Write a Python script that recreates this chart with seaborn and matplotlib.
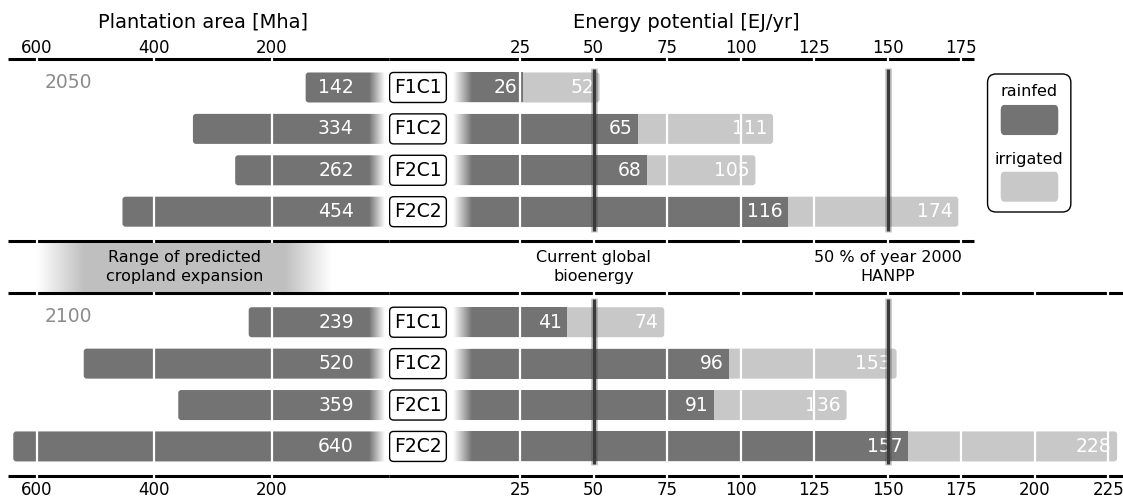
import numpy as np
import pandas as pd
import matplotlib.pyplot as plt
from matplotlib.patches import FancyBboxPatch
import seaborn as sns

# data
scenarios = ['F1C1', 'F1C2', 'F2C1', 'F2C2']
area_2050 = [142, 334, 262, 454]
area_2100 = [239, 520, 359, 640]
rainfed_2050 = [26, 65, 68, 116]
total_2050 = [52, 111, 105, 174]
rainfed_2100 = [41, 96, 91, 157]
total_2100 = [74, 153, 136, 228]
bioenergy_now = 50
hanpp_half = 150
cropland_range = (99, 600)
area_ticks = [600, 400, 200]
energy_ticks_2050 = [25, 50, 75, 100, 125, 150, 175]
energy_ticks_2100 = [25, 50, 75, 100, 125, 150, 175, 200, 225]

DARK = '#737373'
LIGHT = '#c8c8c8'

# row layout (in row units, 2100 block shifted down)
rows_2050 = np.arange(4)
rows_2100 = np.arange(4) + 5.67
df = pd.DataFrame({
    'scenario': scenarios * 2,
    'year': [2050] * 4 + [2100] * 4,
    'row': list(rows_2050) + list(rows_2100),
    'area': area_2050 + area_2100,
    'rainfed': rainfed_2050 + rainfed_2100,
    'total': total_2050 + total_2100,
})

sns.set_theme(style='white')
plt.rcParams['font.family'] = ['DejaVu Sans']
plt.rcParams['text.color'] = 'black'
plt.rcParams['xtick.color'] = 'black'

W, H = 1123, 500
fig = plt.figure(figsize=(W / 100, H / 100), dpi=100)
y_top, y_bot = 59, 476
ax_l = fig.add_axes([8 / W, 1 - y_bot / H, (389 - 8) / W, (y_bot - y_top) / H])
ax_r = fig.add_axes([389 / W, 1 - y_bot / H, (W - 389) / W, (y_bot - y_top) / H])

L_XLIM = (649, 0)
R_XLIM = (-19.6, 230.0)
YLIM = (9.384, -0.688)
line_mid1, line_mid2 = 3.708, 4.971
bar_w = 0.725


def round_bars(ax, patches, rx, ry):
    for p in patches:
        fb = FancyBboxPatch((p.get_x(), p.get_y()), p.get_width(), p.get_height(),
                            boxstyle=f'round,pad=0,rounding_size={rx}',
                            mutation_aspect=ry / rx, fc=p.get_facecolor(),
                            ec='none', zorder=2)
        p.remove()
        ax.add_patch(fb)


# left: plantation area
sns.barplot(data=df, x='area', y='row', orient='y', native_scale=True, width=bar_w,
            color=DARK, saturation=1, linewidth=0, errorbar=None, ax=ax_l)
round_bars(ax_l, list(ax_l.patches), 3 / 0.5867, 3 / 41.4)

# right: energy potential (total first, rainfed on top)
sns.barplot(data=df, x='total', y='row', orient='y', native_scale=True, width=bar_w,
            color=LIGHT, saturation=1, linewidth=0, errorbar=None, ax=ax_r)
round_bars(ax_r, list(ax_r.patches), 3 / 2.94, 3 / 41.4)
n0 = len(ax_r.patches)
sns.barplot(data=df, x='rainfed', y='row', orient='y', native_scale=True, width=bar_w,
            color=DARK, saturation=1, linewidth=0, errorbar=None, ax=ax_r)
for p in ax_r.patches[n0:]:
    p.set_zorder(2.1)

# fade the inner ends of the bars
for rows in (rows_2050, rows_2100):
    y0, y1 = rows.min() - 0.45, rows.max() + 0.45
    g = np.ones((1, 256, 4))
    g[..., 3] = np.clip(np.linspace(0, 1.25, 256), 0, 1)
    ax_l.imshow(g, extent=(34, 0, y1, y0), aspect='auto', zorder=2.5, interpolation='bilinear')
    g = np.ones((1, 256, 4))
    g[..., 3] = np.clip(np.linspace(1.35, 0, 256), 0, 1)
    ax_r.imshow(g, extent=(0, 8.2, y1, y0), aspect='auto', zorder=2.5, interpolation='bilinear')

# white grid lines cutting bars and axis lines
ax_l.vlines(area_ticks, -0.75, 9.45, color='white', lw=1.6, zorder=3, clip_on=False)
ax_r.vlines(energy_ticks_2100, -0.75, 9.45, color='white', lw=1.6, zorder=3, clip_on=False)

# black horizontal lines
ax_l.hlines([YLIM[1], line_mid1, line_mid2, YLIM[0]], L_XLIM[1], L_XLIM[0],
            color='black', lw=2.2, zorder=2.6, clip_on=False)
ax_r.hlines([YLIM[1], line_mid1], R_XLIM[0], 179.5, color='black', lw=2.2, zorder=2.6, clip_on=False)
ax_r.hlines([line_mid2, YLIM[0]], R_XLIM[0], R_XLIM[1], color='black', lw=2.2, zorder=2.6, clip_on=False)

# range of predicted cropland expansion
lo, hi = cropland_range
xs = np.linspace(hi, lo, 512)
rg = np.full((1, 512, 4), 0.75)
rg[..., 3] = np.clip(np.minimum((hi - xs) / 80, (xs - lo) / 80), 0, 1)
ax_l.imshow(rg, extent=(hi, lo, line_mid2 - 0.04, line_mid1 + 0.04), aspect='auto',
            zorder=3.2, interpolation='bilinear')
ax_l.text(348, (line_mid1 + line_mid2) / 2, 'Range of predicted\ncropland expansion',
          ha='center', va='center', fontsize=11.5, linespacing=1.35, zorder=4)

# reference lines
for x in (bioenergy_now, hanpp_half):
    for ya, yb in ((-0.47, 3.49), (5.08, 9.12)):
        ax_r.vlines(x, ya, yb, color='#333333', lw=5, alpha=0.25, zorder=5)
        ax_r.vlines(x, ya + 0.03, yb - 0.03, color='#3a3a3a', lw=2.4, zorder=5)
ax_r.text(bioenergy_now, (line_mid1 + line_mid2) / 2, 'Current global\nbioenergy',
          ha='center', va='center', fontsize=11.5, linespacing=1.35)
ax_r.text(hanpp_half, (line_mid1 + line_mid2) / 2, '50 % of year 2000\nHANPP',
          ha='center', va='center', fontsize=11.5, linespacing=1.35)

# value labels and scenario boxes
for _, r in df.iterrows():
    ax_l.text(60, r['row'], f"{r['area']}", ha='right', va='center', color='white',
              fontsize=13.5, zorder=4)
    ax_r.annotate(f"{r['rainfed']}", (r['rainfed'], r['row']), xytext=(-4, 0),
                  textcoords='offset points', ha='right', va='center', color='white',
                  fontsize=13.5, zorder=4)
    ax_r.annotate(f"{r['total']}", (r['total'], r['row']), xytext=(-4, 0),
                  textcoords='offset points', ha='right', va='center', color='white',
                  fontsize=13.5, zorder=4)
    ax_r.add_patch(FancyBboxPatch((-19.4, r['row'] - bar_w / 2), 19.3, bar_w,
                                  boxstyle='round,pad=0,rounding_size=1.4',
                                  mutation_aspect=0.072,
                                  fc='white', ec='black', lw=1, zorder=4.4))
    ax_r.text(-9.75, r['row'], r['scenario'], ha='center', va='center', fontsize=13.5,
              zorder=4.5)

ax_l.text(547, -0.13, '2050', ha='center', va='center', color='#8c8c8c', fontsize=13.5)
ax_l.text(547, 5.54, '2100', ha='center', va='center', color='#8c8c8c', fontsize=13.5)

# axes setup
for ax, xl in ((ax_l, L_XLIM), (ax_r, R_XLIM)):
    ax.set_xlim(xl)
    ax.set_ylim(YLIM)
    ax.set_xlabel('')
    ax.set_ylabel('')
    ax.set_yticks([])
    for s in ax.spines.values():
        s.set_visible(False)
    ax.patch.set_alpha(0)

# bottom tick labels on the axes, top ones on secondary axes
for ax, bottom_ticks, top_ticks in ((ax_l, area_ticks, area_ticks),
                                    (ax_r, energy_ticks_2100, energy_ticks_2050)):
    ax.set_xticks(bottom_ticks)
    ax.tick_params(axis='x', length=0, labelsize=12, pad=3.5)
    sec = ax.secondary_xaxis('top')
    sec.set_xticks(top_ticks)
    sec.tick_params(axis='x', length=0, labelsize=12, pad=1.5)
    for s in sec.spines.values():
        s.set_visible(False)

fig.text(203 / W, 1 - 22 / H, 'Plantation area [Mha]', ha='center', va='center', fontsize=14)
fig.text(686 / W, 1 - 22 / H, 'Energy potential [EJ/yr]', ha='center', va='center', fontsize=14)

# legend box
lg = fig.add_axes([986.7 / W, 1 - 212.7 / H, 85 / W, 139.4 / H])
lg.set_axis_off()
lg.set_xlim(0, 1)
lg.set_ylim(0, 1)
lg.add_patch(FancyBboxPatch((0.01, 0.005), 0.98, 0.99, boxstyle='round,pad=0,rounding_size=0.1',
                            mutation_aspect=85 / 139.4, fc='white', ec='black', lw=1,
                            transform=lg.transAxes, clip_on=False))
lg.add_patch(FancyBboxPatch((0.165, 0.557), 0.677, 0.216, boxstyle='round,pad=0,rounding_size=0.04',
                            fc=DARK, ec='none'))
lg.add_patch(FancyBboxPatch((0.165, 0.079), 0.677, 0.215, boxstyle='round,pad=0,rounding_size=0.04',
                            fc=LIGHT, ec='none'))
lg.text(0.5, 0.866, 'rainfed', ha='center', va='center', fontsize=11.5)
lg.text(0.5, 0.385, 'irrigated', ha='center', va='center', fontsize=11.5)

fig.savefig('out.png', dpi=100)
